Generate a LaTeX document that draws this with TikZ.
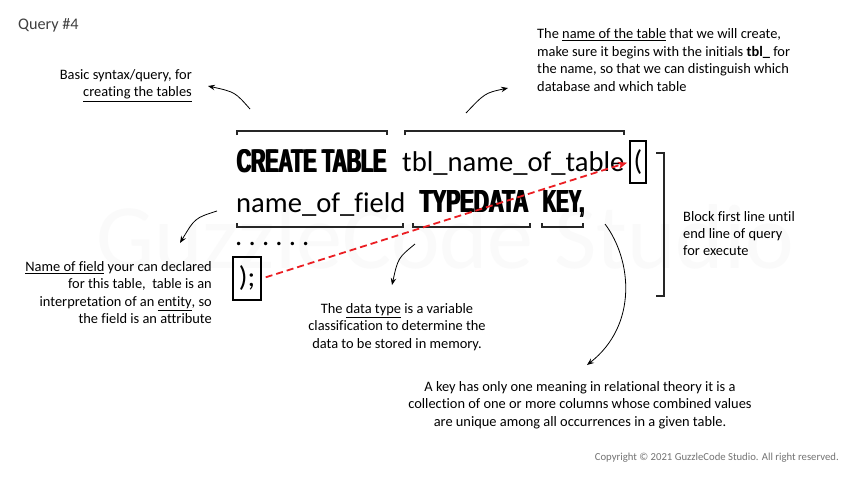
\documentclass[tikz,border=0pt]{standalone}
\usepackage{fontspec}
\setmainfont{Carlito}[Ligatures={NoCommon}]
\newfontfamily\impactfont{Liberation Sans Bold}
\newcommand{\heavytxt}[1]{\rlap{#1}\hspace{0.8pt}#1}
\usetikzlibrary{arrows.meta}
\definecolor{redline}{RGB}{235,30,35}
\begin{document}
\begin{tikzpicture}[x=1pt,y=-1pt,
  ann/.style={font=\fontsize{14.4}{17.4}\selectfont, inner sep=0pt},
  big/.style={font=\fontsize{28.6}{30}\selectfont, inner sep=0pt},
  imp/.style={inner sep=0pt},
  brk/.style={line width=1.1pt, black!85},
  arr/.style={line width=0.8pt, -{Stealth[length=7pt,width=5.5pt,inset=2.5pt]}},
  boxed/.style={draw, line width=1.8pt, inner sep=0pt, font=\fontsize{28.6}{30}\selectfont},
  redarr/.style={draw=redline, line width=1.8pt, dash pattern=on 7pt off 4pt, -{Stealth[length=9pt,width=7pt,inset=2pt]}}
]
\useasboundingbox (0,0) rectangle (864,483);
\fill[white] (0,0) rectangle (864,483);

% watermark
\node[inner sep=0pt, anchor=base, text=black!2, font=\fontsize{92}{92}\selectfont] (wm) at (445,268) {GuzzleCode Studio};

% title
\node[inner sep=0pt, anchor=west, text=black!75, font=\fontsize{16.2}{18}\selectfont] (title) at (18,25) {Query \#4};

% main query
\node[imp, anchor=base west] (create) at (236,172) {\resizebox{151pt}{23pt}{\impactfont\heavytxt{CREATE TABLE}}};
\node[big, anchor=base west] (tbl) at (402,171) {tbl\_name\_of\_table};
\node[boxed, minimum width=16pt, minimum height=42pt] (paren) at (638,162) {(};
\node[big, anchor=base west] (field) at (236,212) {name\_of\_field};
\node[imp, anchor=base west] (type) at (419,212) {\resizebox{110pt}{22pt}{\impactfont\heavytxt{TYPEDATA}}};
\node[imp, anchor=base west] (key) at (542,212) {\resizebox{43pt}{22pt}{\impactfont\heavytxt{KEY,}}};
\node[big, anchor=base west] (dots) at (235,245) {.\hspace{6.2pt}.\hspace{6.2pt}.\hspace{6.2pt}.\hspace{6.2pt}.\hspace{6.2pt}.};
\node[boxed, minimum width=28pt, minimum height=43pt] (semi) at (247,278.5) {);};

% brackets
\draw[brk] (237,135) -- (237,131) -- (387,131) -- (387,135);
\draw[brk] (405,135) -- (405,131) -- (624,131) -- (624,135);
\draw[brk] (237,223) -- (237,227) -- (403,227) -- (403,223);
\draw[brk] (413,223) -- (413,227) -- (530,227) -- (530,223);
\draw[brk] (542,223) -- (542,227) -- (583,227) -- (583,223);
\draw[brk] (656,153) -- (664,153) -- (664,296) -- (656,296);

% red dashed arrow
\draw[redarr, shorten <=4pt, shorten >=2pt] (semi.east) -- (paren.west);

% annotations
\node[ann, align=right, anchor=east] (basic) at (192,85.5)
  {Basic syntax/query, for\\ \underline{creating the tables}};
\node[ann, align=left, anchor=west] (tname) at (537,60)
  {The \underline{name of the table} that we will create,\\
   make sure it begins with the initials \textbf{tbl\_} for\\
   the name, so that we can distinguish which\\
   database and which table};
\node[ann, align=left, anchor=west] (block) at (683,233.5)
  {Block first line until\\ end line of query\\ for execute};
\node[ann, align=right, anchor=east] (fname) at (212,292.5)
  {\underline{Name of field} your can declared\\
   for this table,\ \ table is an\\
   interpretation of an \underline{entity}, so\\
   the field is an attribute};
\node[ann, align=center] (dtype) at (397,327)
  {The \underline{data type} is a variable\\
   classification to determine the\\
   data to be stored in memory.};
\node[ann, align=center] (keytxt) at (580,405)
  {A key has only one meaning in relational theory it is a\\
   collection of one or more columns whose combined values\\
   are unique among all occurrences in a given table.};
\node[inner sep=0pt, anchor=east, text=black!55, font=\fontsize{10.7}{12}\selectfont] (copy) at (839,458)
  {Copyright \textcopyright{} 2021 GuzzleCode Studio. All right reserved.};

% arrow endpoints
\coordinate (a1s) at (250,109); \coordinate (a1e) at (208,86);
\coordinate (a2s) at (466,113); \coordinate (a2e) at (508,88);
\coordinate (a3s) at (217,211); \coordinate (a3e) at (180,243);
\coordinate (a4s) at (415,244); \coordinate (a4e) at (392,285);
\coordinate (a5s) at (605,224); \coordinate (a5e) at (587,365);

\draw[arr] (a1s) .. controls (235,92) .. (a1e);
\draw[arr] (a2s) .. controls (485,93) .. (a2e);
\draw[arr] (a3s) .. controls (195,218) .. (a3e);
\draw[arr] (a4s) .. controls (398,258) .. (a4e);
\draw[arr] (a5s) .. controls (632,260) and (638,325) .. (a5e);
\end{tikzpicture}
\end{document}
